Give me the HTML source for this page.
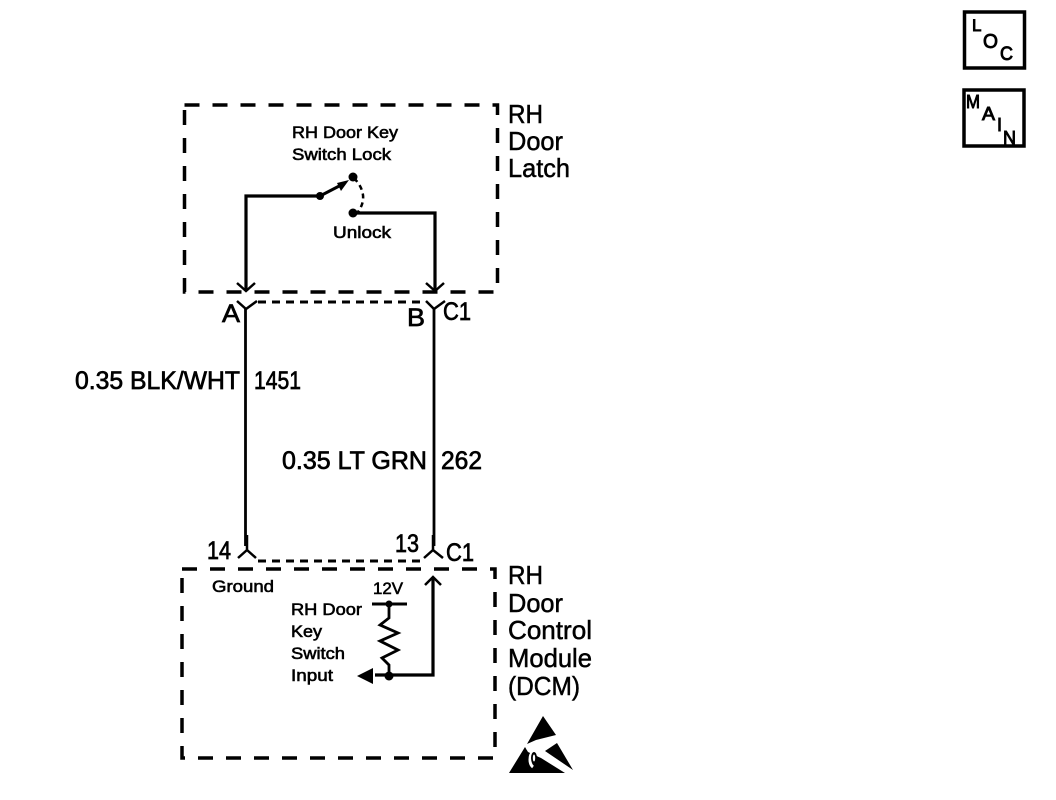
<!DOCTYPE html>
<html><head><meta charset="utf-8"><style>
html,body{margin:0;padding:0;background:#fff;width:1056px;height:800px;overflow:hidden}
svg{display:block}
text{font-family:"Liberation Sans",sans-serif;fill:#000;stroke:#000}
.s{font-size:17px;stroke-width:.6}
.m{font-size:25px;stroke-width:.7}
.l{font-size:26px;stroke-width:.5}
.b{stroke-width:.9}
</style></head><body>
<svg width="1056" height="800" viewBox="0 0 1056 800">
<g fill="none" stroke="#000">
<rect x="184.500" y="105" width="313" height="187" stroke-width="3.500" stroke-dasharray="15 13"/>
<rect x="182" y="569" width="313" height="189" stroke-width="3.500" stroke-dasharray="15 13"/>
<path d="M258 302H425M258 561H425" stroke-width="3" stroke-dasharray="8 6"/>
<path d="M320 196H246V290M354 213H435V290" stroke-width="3.200"/>
<path d="M237 283L246 291L255 283M426 283L435 291L444 283" stroke-width="2.500"/>
<path d="M237 301L246 309L257 301M426 301L434 309L445 301" stroke-width="2.500"/>
<path d="M245.500 309V546M434 309V546" stroke-width="2.800"/>
<path d="M238 558L247 550L256 558M424 558L433 550L443 558M247 550V535M433 550V535" stroke-width="2.500"/>
<path d="M320 196L345 183" stroke-width="3"/>
<path d="M354 178Q370 195 358 212" stroke-width="2.500" stroke-dasharray="5 4"/>
<path d="M433 577V675H375" stroke-width="3.200"/>
<path d="M425 585L433 577L441 585" stroke-width="2.500"/>
<path d="M372 604H407" stroke-width="3"/>
<path d="M389 604V618L380 625L398 633L380 641L398 650L382 658L389 665V676" stroke-width="2.800"/>
<rect x="964.500" y="12" width="60" height="56" stroke-width="3.500"/>
<rect x="964" y="90" width="60" height="56" stroke-width="3.500"/>
</g>
<g fill="#000">
<circle cx="320" cy="196" r="4"/><circle cx="353" cy="177" r="4.500"/><circle cx="353" cy="213" r="4.500"/>
<circle cx="389" cy="604" r="3.500"/><circle cx="389" cy="676" r="4.500"/>
<path d="M349 180L337 183L341 191Z"/>
<path d="M357 676L373 668V684Z"/>
<path d="M543 716L556 735L536 740L527 744Z"/>
<path d="M525 747L509 773H565L541 758L528 752Z"/>
<path d="M545 751L557 743L573 770Z"/>
</g>
<path d="M527 748L540 756M533 752C529 755 529 764 533 767" fill="none" stroke="#fff" stroke-width="3"/>
<ellipse cx="534" cy="758" rx="3" ry="6" fill="#000"/>
<ellipse cx="534" cy="758" rx="1.200" ry="3.500" fill="#fff"/>
<text class="s" x="292" y="138" textLength="106" lengthAdjust="spacingAndGlyphs">RH Door Key</text>
<text class="s" x="292" y="160" textLength="99" lengthAdjust="spacingAndGlyphs">Switch Lock</text>
<text class="s" x="333" y="238" textLength="58" lengthAdjust="spacingAndGlyphs">Unlock</text>
<text class="s" x="212" y="592" textLength="62" lengthAdjust="spacingAndGlyphs">Ground</text>
<text class="s" x="373" y="594" textLength="30" lengthAdjust="spacingAndGlyphs">12V</text>
<text class="s" x="291" y="615" textLength="71" lengthAdjust="spacingAndGlyphs">RH Door</text>
<text class="s" x="291" y="637" textLength="31" lengthAdjust="spacingAndGlyphs">Key</text>
<text class="s" x="291" y="659" textLength="54" lengthAdjust="spacingAndGlyphs">Switch</text>
<text class="s" x="291" y="681" textLength="42" lengthAdjust="spacingAndGlyphs">Input</text>
<text class="m" x="222" y="322" textLength="18" lengthAdjust="spacingAndGlyphs">A</text>
<text class="m" x="407" y="326" textLength="18" lengthAdjust="spacingAndGlyphs">B</text>
<text class="m" x="443" y="320" textLength="28" lengthAdjust="spacingAndGlyphs">C1</text>
<text class="m" x="75" y="389" textLength="165" lengthAdjust="spacingAndGlyphs">0.35 BLK/WHT</text>
<text class="m" x="254" y="389" textLength="47" lengthAdjust="spacingAndGlyphs">1451</text>
<text class="m" x="282" y="469" textLength="145" lengthAdjust="spacingAndGlyphs">0.35 LT GRN</text>
<text class="m" x="441" y="469" textLength="41" lengthAdjust="spacingAndGlyphs">262</text>
<text class="m" x="207" y="559" textLength="24" lengthAdjust="spacingAndGlyphs">14</text>
<text class="m" x="395" y="552" textLength="24" lengthAdjust="spacingAndGlyphs">13</text>
<text class="m" x="446" y="561" textLength="28" lengthAdjust="spacingAndGlyphs">C1</text>
<text class="l" x="508" y="123" textLength="35" lengthAdjust="spacingAndGlyphs">RH</text>
<text class="l" x="508" y="150" textLength="55" lengthAdjust="spacingAndGlyphs">Door</text>
<text class="l" x="508" y="177" textLength="62" lengthAdjust="spacingAndGlyphs">Latch</text>
<text class="l" x="508" y="584" textLength="35" lengthAdjust="spacingAndGlyphs">RH</text>
<text class="l" x="508" y="612" textLength="55" lengthAdjust="spacingAndGlyphs">Door</text>
<text class="l" x="508" y="639" textLength="84" lengthAdjust="spacingAndGlyphs">Control</text>
<text class="l" x="508" y="667" textLength="84" lengthAdjust="spacingAndGlyphs">Module</text>
<text class="l" x="508" y="695" textLength="72" lengthAdjust="spacingAndGlyphs">(DCM)</text>
<text class="b" x="972" y="31" style="font-size:17px">L</text>
<text class="b" x="983" y="48" style="font-size:20px" textLength="15" lengthAdjust="spacingAndGlyphs">O</text>
<text class="b" x="1000" y="60" style="font-size:19px" textLength="13" lengthAdjust="spacingAndGlyphs">C</text>
<text class="b" x="966" y="108" style="font-size:18px" textLength="14" lengthAdjust="spacingAndGlyphs">M</text>
<text class="b" x="982" y="120" style="font-size:18px" textLength="13" lengthAdjust="spacingAndGlyphs">A</text>
<text class="b" x="997" y="131" style="font-size:18px">I</text>
<text class="b" x="1003" y="144" style="font-size:18px" textLength="13" lengthAdjust="spacingAndGlyphs">N</text>
</svg>
</body></html>
